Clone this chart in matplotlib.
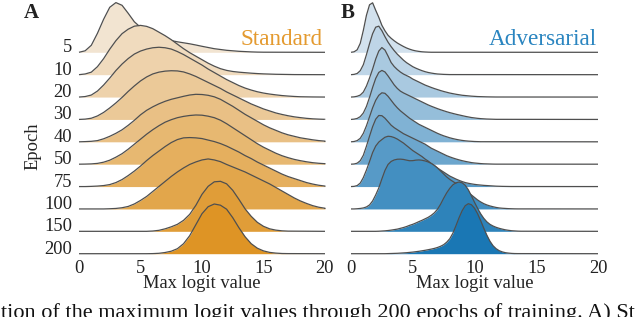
import numpy as np
import matplotlib
matplotlib.use("Agg")
import matplotlib.pyplot as plt
from matplotlib.colors import to_rgb

plt.rcParams['font.family'] = ['Liberation Serif', 'DejaVu Serif']

# ---------------- data ----------------
epochs = ["5", "10", "20", "30", "40", "50", "75", "100", "150", "200"]
x_ticks = [0, 5, 10, 15, 20]

# Standard training: density (relative) sampled every 0.5 from 0
std_x = np.arange(0, 20.01, 0.5)
std_5 = [0, 1.5, 7, 19, 33, 45, 49.7, 47, 39, 30.5, 25, 21, 17.5, 15, 13, 11.7, 10.5, 9.5, 8.5, 7.3,
         6, 4.8, 3.6, 2.8, 2.0, 1.5, 1.0, 0.7, 0.4, 0.2, 0.1]
std_10 = [0, 0.7, 2.5, 8, 16, 25.5, 34, 41, 45.5, 48.5, 49.3, 48.3, 46, 42.5, 39, 35, 30.5, 26, 22, 18.5,
          15, 11.5, 8.5, 6, 4.3, 3.2, 2.5, 2, 1.5, 1.1, 0.8, 0.6, 0.4, 0.3, 0.2, 0.1]
std_20 = [0, 0.5, 2, 6, 12, 19, 26.5, 33, 38.5, 43, 46, 48, 49.3, 49.8, 49.3, 48, 45.5, 42.5, 39, 35.5,
          32, 28, 24.5, 21, 17.5, 14.5, 11.5, 9, 7, 5.3, 4, 3, 2.2, 1.5, 1, 0.6, 0.3, 0.2, 0.1]
std_30 = [0, 0.3, 1.2, 3.5, 7, 11.5, 16.5, 22, 28, 33.5, 38.5, 42.5, 45.5, 47.3, 48.3, 48.7, 48.5, 47.5, 45.5, 43,
          40, 37, 34, 31, 27.5, 24.5, 21.5, 18.5, 15.5, 13, 10.5, 8.5, 6.5, 5, 3.7, 2.6, 1.8, 1.1, 0.6, 0.3, 0.1]
std_40 = [0, 0.2, 0.5, 1.2, 3, 5.5, 8.5, 12, 16.5, 21.5, 27, 31.5, 35, 38, 40.5, 42.5, 44, 45.5, 46.8, 47.5,
          47.3, 46.5, 45, 42.5, 39, 35.5, 31.5, 27.5, 24, 20.5, 17, 14, 11.5, 9, 7, 5.5, 4, 3, 2, 1.2, 0.7]
std_50 = [0, 0.1, 0.3, 0.8, 2, 4, 7, 10.5, 15, 20, 25, 30, 34.5, 38.5, 42, 44.5, 46.5, 47.8, 48.7, 49.2,
          49, 48, 46.5, 44, 40.5, 36.5, 32.5, 28.5, 24.5, 20.5, 17, 14, 11, 8.5, 6.5, 4.8, 3.5, 2.4, 1.5, 0.9, 0.5]
std_75 = [0, 0, 0.2, 0.5, 1, 2, 4, 7, 11, 15.5, 20.5, 26, 31, 35.5, 40, 44, 47, 48.7, 49, 48.7,
          48, 46.5, 45, 43, 40.5, 37.5, 34.5, 31, 28, 24.5, 21.5, 18.5, 15.5, 12.5, 10, 8, 6, 4, 2.5, 1.3, 0.5]
std_100 = [0, 0, 0, 0, 0, 0.2, 0.5, 1.2, 2.5, 5, 8.5, 12.5, 17.5, 22.5, 27.5, 32.5, 37, 41, 44.5, 47,
           49, 50, 49, 47.3, 44.5, 42, 39.5, 37, 34, 31, 28, 25, 21.5, 18, 14.5, 11, 8, 5.5, 3.3, 1.7, 0.7]
std_150 = [0, 0, 0, 0, 0, 0, 0, 0, 0, 0, 0, 0, 0.3, 1, 2.5, 4.5, 7, 11, 17, 26,
           37, 45, 49.5, 50, 47.5, 41, 32, 22.5, 15, 9, 5, 2.5, 1.2, 0.5, 0.2]
std_200 = [0, 0, 0, 0, 0, 0, 0, 0, 0, 0, 0, 0, 0.1, 0.4, 1.2, 2.5, 5, 10, 18, 29,
           40, 47, 49.7, 48.5, 44.5, 36, 26, 17, 10, 5.5, 2.8, 1.3, 0.6, 0.2, 0.1]

# Adversarial training: density (relative) sampled every 0.25 from 0
adv_x = np.arange(0, 14.001, 0.25)
adv_5 = [0, 0.5, 2.5, 9, 22, 37, 47.5, 49.5, 42, 35, 27, 21.5, 17, 14, 11.5, 9.3, 7.5, 5.8, 4.3, 3.1,
         2.1, 1.4, 0.9, 0.5, 0.3, 0.15, 0.05]
adv_10 = [0, 0.3, 1.2, 4, 10, 20, 31, 41, 47.5, 48.5, 44, 38, 32.5, 28, 24, 20.5, 17.5, 14.5, 12, 10,
          8, 6.5, 5.2, 4, 3, 2.2, 1.6, 1.1, 0.7, 0.5, 0.3, 0.2, 0.1]
adv_20 = [0, 0.2, 0.8, 2, 5, 11, 19, 28, 38, 46, 49.5, 47, 41, 34.5, 30.5, 27.5, 25, 23, 21.5, 20,
          18, 16.5, 15, 13.5, 12, 10.8, 9.6, 8.5, 7.5, 6.5, 5.6, 4.8, 4, 3.4, 2.8, 2.3, 1.8, 1.5, 1.2, 0.9,
          0.7, 0.5, 0.4, 0.3, 0.2, 0.15, 0.1, 0.05]
adv_30 = [0, 0.3, 1, 2.8, 6.5, 13, 22, 32, 41, 47, 49, 47.5, 43.5, 39, 34.5, 31, 28.3, 26.5, 25, 23.5,
          22, 20.5, 19, 17.5, 16, 14.5, 13.2, 12, 10.8, 9.7, 8.7, 7.7, 6.8, 6, 5.2, 4.5, 3.8, 3.1, 2.5, 1.9,
          1.5, 1.1, 0.8, 0.6, 0.4, 0.3, 0.2, 0.1]
adv_40 = [0, 0.3, 1.2, 3.5, 8.5, 16, 25, 34, 41.5, 46.5, 49, 48.5, 45.5, 41.5, 37.5, 34, 31, 28.5, 26, 23.5,
          21.5, 19.5, 17.5, 16, 14.5, 13, 11.5, 10, 8.5, 7.2, 6, 5, 4, 3.2, 2.5, 1.9, 1.4, 1, 0.7, 0.5,
          0.3, 0.2, 0.1]
adv_50 = [0, 0.2, 1, 3.5, 9, 18, 28, 37.5, 45, 48.7, 48.5, 46, 42.5, 39, 36.5, 34.5, 32.5, 30.5, 29, 27.5,
          26, 24.5, 23, 21.5, 20, 18, 16, 14.5, 13, 11.5, 10, 8.5, 7.3, 6.2, 5.2, 4.3, 3.5, 2.8, 2.2, 1.6,
          1.2, 0.9, 0.6, 0.4, 0.3, 0.2, 0.1, 0.05]
adv_75 = [0, 0.2, 1, 3.5, 9, 16.5, 25, 34, 40.5, 44.5, 47, 49.3, 50.3, 50, 49, 47.5, 45.5, 43.5, 41, 38.5,
          36, 34, 32, 30, 27.5, 25.5, 23, 21, 18.5, 16.5, 14.5, 12.5, 10.5, 9, 7.5, 6.2, 5, 4, 3.3, 2.7,
          2.2, 1.8, 1.5, 1.2, 1, 0.8, 0.6, 0.4, 0.3, 0.2, 0.15, 0.1, 0.05]
adv_100 = [0, 0, 0.2, 0.5, 1, 2, 4, 8, 14, 21, 30, 38.5, 44.5, 47.5, 49, 49.7, 49.8, 49.5, 48.8, 48.2,
           48.3, 48.8, 49, 48.7, 48, 47, 45.5, 43.5, 41, 38, 35, 32, 29.5, 27.5, 25.5, 23.5, 21.5, 19, 16.5, 14,
           11.5, 9, 7, 5.3, 4, 3, 2.2, 1.5, 1, 0.7, 0.5, 0.3, 0.2, 0.1, 0.05]
adv_150 = [0, 0, 0, 0, 0, 0, 0, 0, 0, 0.1, 0.3, 0.5, 0.8, 1.2, 1.7, 2.2, 3, 3.8, 4.8, 6,
           7, 8.3, 9.7, 11, 12.5, 14, 16, 18.5, 22, 27, 33, 38.5, 43, 46.5, 48.5, 49.3, 48.5, 46, 41.5, 35.5,
           29, 23, 17.5, 13, 9.5, 7, 5.3, 4, 3, 2.2, 1.5, 1, 0.6, 0.4, 0.2, 0.1]
adv_200 = [0, 0, 0, 0, 0, 0, 0, 0, 0, 0, 0, 0, 0.1, 0.2, 0.3, 0.4, 0.6, 0.8, 1.0, 1.3,
           1.6, 2, 2.4, 2.9, 3.4, 4, 4.6, 5.3, 6.2, 7.4, 9, 11.5, 15, 20.5, 28, 36, 43, 48, 50, 49,
           45.5, 40, 33, 25.5, 18.5, 12.5, 8, 5, 3, 1.8, 1, 0.6, 0.3, 0.15, 0.1]

std_rows = [std_5, std_10, std_20, std_30, std_40, std_50, std_75, std_100, std_150, std_200]
adv_rows = [adv_5, adv_10, adv_20, adv_30, adv_40, adv_50, adv_75, adv_100, adv_150, adv_200]

# ---------------- style ----------------
W, H = 640, 317
LINE_C = "#4f4f4f"


def blend(c1, c2, n):
    a, b = np.array(to_rgb(c1)), np.array(to_rgb(c2))
    return [tuple(a + (b - a) * t) for t in np.linspace(0, 1, n)]


std_cols = blend("#F2E4D1", "#DE9425", len(epochs))
adv_cols = blend("#D2E1ED", "#1A77B4", len(epochs))

fig = plt.figure(figsize=(W / 100, H / 100), dpi=100)


def fx(px):
    return px / W


def fy(py):
    return 1 - py / H


top_base, bot_base = 52.3, 253.7
n = len(epochs)


def make_panel(left_px, right_px, xs, rows, cols, show_labels):
    ax = fig.add_axes([fx(left_px), fy(bot_base), fx(right_px - left_px),
                       (bot_base - top_base) / H])
    ax.set_xlim(0, 20)
    ax.set_ylim(0, n - 1)
    unit = (n - 1) / (bot_base - top_base)  # data units per pixel (vertical)
    for i, (vals, c) in enumerate(zip(rows, cols)):
        base = n - 1 - i
        xv = np.append(xs[:len(vals)], 20)
        hv = np.append(np.array(vals, float), 0)
        yv = base + hv * unit
        ax.fill_between(xv, base, yv, color=c, lw=0, zorder=2 * i + 1, clip_on=False)
        ax.plot(xv, yv, color=LINE_C, lw=0.9, zorder=2 * i + 2, clip_on=False,
                solid_capstyle='butt')
        if show_labels:
            ax.text(-0.55, base, epochs[i], ha='right', va='baseline',
                    fontsize=13.3, color='#222222')
    for s in ax.spines.values():
        s.set_visible(False)
    ax.set_yticks([])
    ax.set_xticks(x_ticks)
    ax.set_xticklabels([str(t) for t in x_ticks])
    ax.tick_params(axis='x', length=0, pad=4.3, labelsize=13.3, labelcolor='#222222')
    ax.patch.set_alpha(0)
    return ax


axA = make_panel(79, 325, std_x, std_rows, std_cols, True)
axB = make_panel(351, 598, adv_x, adv_rows, adv_cols, False)

# axis labels
fig.text(fx(202), fy(288.3), "Max logit value", ha='center', va='baseline',
         fontsize=13.3, color='#222222')
fig.text(fx(474.5), fy(288.3), "Max logit value", ha='center', va='baseline',
         fontsize=13.3, color='#222222')
fig.text(fx(33), fy(146), "Epoch", rotation=90, ha='center', va='center',
         fontsize=13.3, color='#222222')

# panel letters and titles
fig.text(fx(23.3), fy(18.3), "A", ha='left', va='baseline', fontsize=15,
         fontweight='bold', color='#222222')
fig.text(fx(340.7), fy(18.3), "B", ha='left', va='baseline', fontsize=15,
         fontweight='bold', color='#222222')
fig.text(fx(323), fy(45), "Standard", ha='right', va='baseline', fontsize=16.7,
         color='#E49A2F')
fig.text(fx(596.7), fy(45), "Adversarial", ha='right', va='baseline', fontsize=16.7,
         color='#2A85C0')

# caption line (its lower part is cut by the image bottom edge, as in the source)
fig.text(fx(1), fy(318), "tion of the maximum logit values through 200 epochs of training. A) St",
         ha='left', va='baseline', fontsize=16, color='#111111')

fig.savefig("out.png", dpi=100)
